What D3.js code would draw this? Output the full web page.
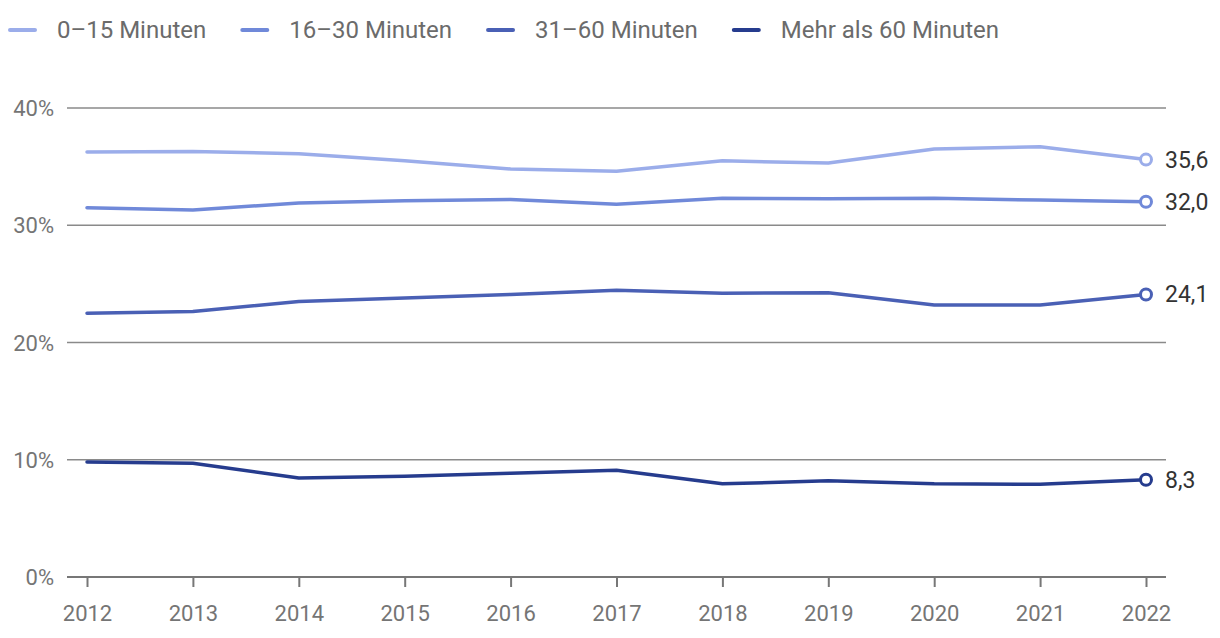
<!DOCTYPE html>
<html>
<head>
<meta charset="utf-8">
<script src="https://cdn.jsdelivr.net/npm/d3@7"></script>
<style>
  body { margin: 0; background: #fff; font-family: Roboto, sans-serif; }
  svg text { font-family: Roboto, sans-serif; }
</style>
</head>
<body>
<svg id="chart" width="1220" height="638"></svg>
<script>
const years = [2012, 2013, 2014, 2015, 2016, 2017, 2018, 2019, 2020, 2021, 2022];
const seriesNames = ['0–15 Minuten', '16–30 Minuten', '31–60 Minuten', 'Mehr als 60 Minuten'];
const seriesColors = ['#9badea', '#7089d9', '#4a60b5', '#263c8e'];
const v0to15 = [36.25, 36.3, 36.1, 35.5, 34.8, 34.6, 35.5, 35.3, 36.5, 36.7, 35.6];
const v16to30 = [31.5, 31.3, 31.9, 32.1, 32.2, 31.8, 32.3, 32.25, 32.3, 32.15, 32.0];
const v31to60 = [22.5, 22.65, 23.5, 23.8, 24.1, 24.45, 24.2, 24.25, 23.2, 23.2, 24.1];
const vOver60 = [9.8, 9.7, 8.45, 8.6, 8.85, 9.1, 7.95, 8.2, 7.95, 7.9, 8.3];
const yTicks = [0, 10, 20, 30, 40];

const seriesValues = [v0to15, v16to30, v31to60, vOver60];
const svg = d3.select('#chart');

const x = d3.scalePoint().domain(years).range([87, 1146]);
const y = d3.scaleLinear().domain([0, 40]).range([577, 108]);
const fmt = v => v.toFixed(1).replace('.', ',');

// gridlines
svg.append('g').selectAll('line').data(yTicks.filter(t => t > 0)).join('line')
  .attr('x1', 67).attr('x2', 1166)
  .attr('y1', d => y(d)).attr('y2', d => y(d))
  .attr('stroke', '#8a8a8a').attr('stroke-width', 1.5);

// y labels
svg.append('g').selectAll('text').data(yTicks).join('text')
  .attr('x', 54).attr('y', d => y(d) + 8)
  .attr('text-anchor', 'end')
  .attr('font-size', 22).attr('fill', '#757575')
  .text(d => d + '%');

// x axis
const xAxis = svg.append('g').attr('transform', `translate(0,${y(0)})`)
  .call(d3.axisBottom(x).tickSize(10).tickPadding(18).tickSizeOuter(0));
xAxis.select('.domain').remove();
xAxis.insert('line', ':first-child').attr('x1', 67).attr('x2', 1166)
  .attr('stroke', '#777').attr('stroke-width', 2);
xAxis.selectAll('.tick line').attr('stroke', '#777').attr('stroke-width', 2);
xAxis.selectAll('.tick text').attr('font-size', 22).attr('fill', '#757575')
  .attr('font-family', 'Roboto, sans-serif');

// lines
const line = d3.line().x((d, i) => x(years[i])).y(d => y(d));
seriesValues.forEach((vals, s) => {
  svg.append('path').datum(vals)
    .attr('d', line)
    .attr('fill', 'none')
    .attr('stroke', seriesColors[s])
    .attr('stroke-width', 3.5)
    .attr('stroke-linejoin', 'round')
    .attr('stroke-linecap', 'round');
  const last = vals[vals.length - 1];
  svg.append('circle')
    .attr('cx', x(years[years.length - 1])).attr('cy', y(last)).attr('r', 5.5)
    .attr('fill', '#fff').attr('stroke', seriesColors[s]).attr('stroke-width', 3);
  svg.append('text')
    .attr('x', 1165).attr('y', y(last) + 8)
    .attr('font-size', 23).attr('fill', '#333')
    .text(fmt(last));
});

// legend
let lx = 10;
seriesNames.forEach((name, s) => {
  const g = svg.append('g').attr('transform', `translate(${lx},30)`);
  g.append('line').attr('x1', 0).attr('x2', 25).attr('y1', 0).attr('y2', 0)
    .attr('stroke', seriesColors[s]).attr('stroke-width', 4).attr('stroke-linecap', 'round');
  const t = g.append('text').attr('x', 47).attr('y', 8)
    .attr('font-size', 24).attr('fill', '#6b6b6b').text(name);
  lx += 47 + t.node().getComputedTextLength() + 36;
});
</script>
</body>
</html>
